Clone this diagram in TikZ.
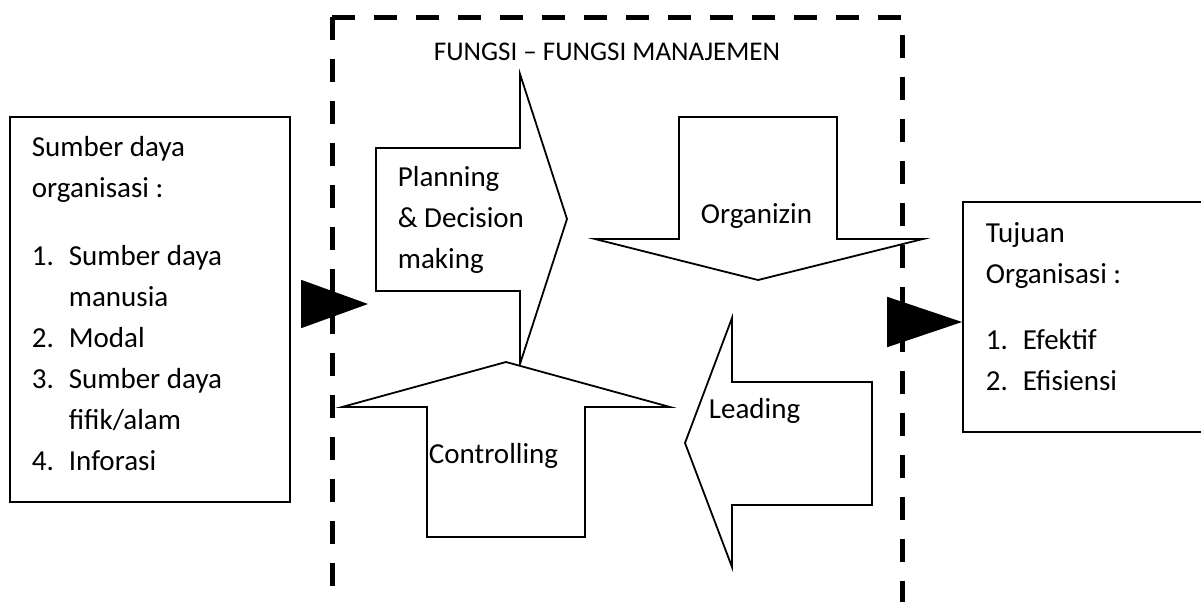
\documentclass[tikz,border=0pt]{standalone}
\usepackage{fontspec}
\setmainfont{Carlito}
\usetikzlibrary{arrows.meta}

\newcommand{\listno}[1]{\makebox[18.5pt][l]{#1}}

\begin{document}
\begin{tikzpicture}[x=0.5pt, y=-0.5pt, font=\fontsize{14.5}{20.5}\selectfont, line width=0.9pt]
    \tikzset{box/.style={draw, rectangle, inner sep=0pt},
             txt/.style={inner sep=0pt, align=left, anchor=base west},
             blockarrow/.style={draw, fill=white, line join=miter},
             frame/.style={line width=2.5pt, dash pattern=on 11.5pt off 9.5pt},
             intip/.style={-{Triangle[length=33.5pt, width=24pt]}},
             outtip/.style={-{Triangle[length=37.5pt, width=25pt]}}}
    \useasboundingbox (0,0) rectangle (1201,601);

    % Left box - resources of the organisation (text placed by its last line)
    \node[box, minimum width=140pt, minimum height=192.5pt] (res) at (150,309.5) {};
    \node[txt] (resText) at (31,470) {Sumber daya\\organisasi :\\[13.5pt]
        \listno{1.}Sumber daya\\\hspace*{18.5pt}manusia\\
        \listno{2.}Modal\\
        \listno{3.}Sumber daya\\\hspace*{18.5pt}fifik/alam\\
        \listno{4.}Inforasi};

    % Right box - goals (runs off the right edge)
    \node[box, minimum width=133.5pt, minimum height=115pt] (goal) at (1096.5,317) {};
    \node[txt] (goalText) at (985,390) {Tujuan\\Organisasi :\\[12.5pt]
        \listno{1.}Efektif\\
        \listno{2.}Efisiensi};

    % Planning arrow (pointing right)
    \draw[blockarrow] (376,148) -- (520,148) -- (520,74) -- (567,219)
        -- (520,364) -- (520,291) -- (376,291) -- cycle;
    \node[txt] (plan) at (397,268) {Planning\\\& Decision\\making};

    % Organizing arrow (pointing down)
    \draw[blockarrow] (679,117) -- (837,117) -- (837,239) -- (923,239)
        -- (758,280) -- (595,239) -- (679,239) -- cycle;
    \node[txt] (org) at (700,223) {Organizin};

    % Leading arrow (pointing left)
    \draw[blockarrow] (872,382) -- (732,382) -- (732,318) -- (685,443)
        -- (732,567) -- (732,505) -- (872,505) -- cycle;
    \node[txt] (lead) at (708,418) {Leading};

    % Controlling arrow (pointing up), drawn over the planning arrow
    \draw[blockarrow] (427,537) -- (427,407) -- (342,407) -- (506,362)
        -- (670,407) -- (585,407) -- (585,537) -- cycle;
    \node[txt] (ctrl) at (428,463) {Controlling};

    % Dashed frame round the management functions
    \draw[frame] (332,17) -- (332,610);
    \draw[frame] (332,17) -- (902,17) -- (902,610);
    \node[txt, font=\fontsize{13.5}{16}\selectfont] (title) at (433,60) {FUNGSI – FUNGSI MANAJEMEN};

    % Black arrow heads in and out
    \coordinate (inTip) at (368,304);
    \coordinate (outTail) at (888,322);
    \draw[intip, shorten <=5.5pt] (res.east |- inTip) -- (inTip);
    \draw[outtip] (outTail) -- (goal.west |- outTail);

\end{tikzpicture}
\end{document}
